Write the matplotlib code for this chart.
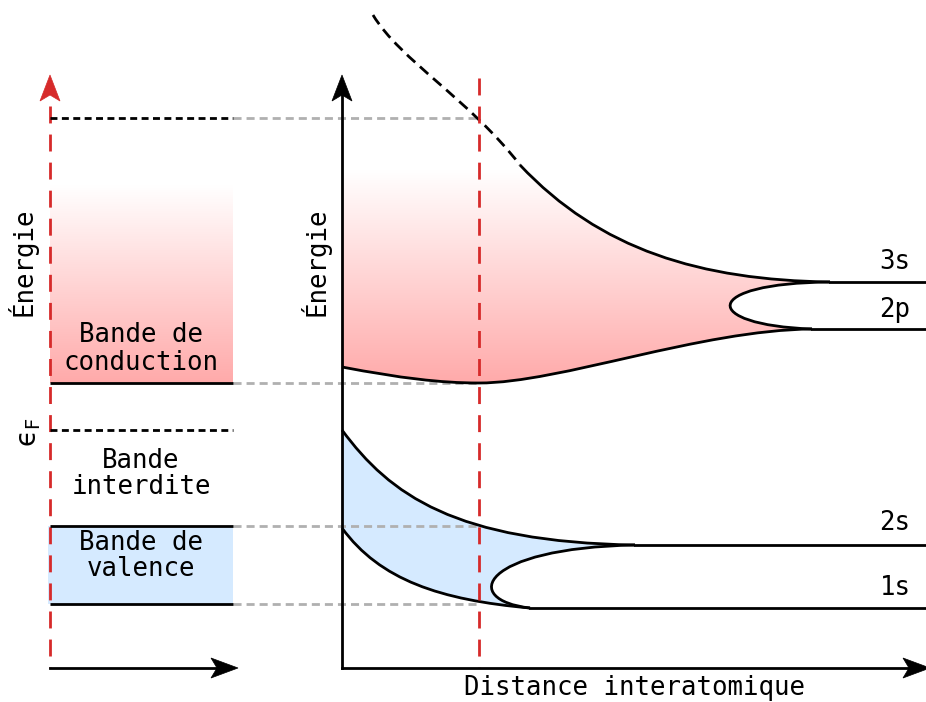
import numpy as np
import matplotlib
matplotlib.use('Agg')
import matplotlib.pyplot as plt
from matplotlib.path import Path
from matplotlib.patches import PathPatch, Polygon

W, H = 926, 702

# ---------------- data (schematic, in pixel-like units) ----------------
level_labels = ['3s', '2p', '2s', '1s']
level_y = [282, 329, 545, 608]
level_start_x = [830, 812, 635, 530]
level_label_y = [262, 310, 523, 588]

equilibrium_x = 479
top_energy_y = 118
conduction_bottom_y = 383
fermi_y = 430
valence_top_y = 526
valence_bottom_y = 604

band_texts = ['Bande de\nconduction', 'Bande\ninterdite', 'Bande de\nvalence']
band_text_y = [349, 474, 556]

# cubic Bezier control points P0, P1, P2, P3
cond_upper_dashed = [(373, 15), (400, 60), (470, 100), (520, 165)]
cond_upper = [(520, 165), (600, 250), (700, 280), (830, 282)]
cond_inner = [(830, 282), (700, 283), (700, 325), (812, 329)]
cond_lower_a = [(342, 367), (400, 378), (440, 383), (479, 383)]
cond_lower_b = [(479, 383), (560, 383), (700, 330), (812, 329)]
val_upper = [(342, 430), (390, 495), (455, 542), (635, 545)]
val_inner = [(635, 545), (480, 548), (460, 600), (530, 608)]
val_lower = [(342, 528), (380, 580), (440, 600), (530, 608)]

# ---------------- styles ----------------
RED = '#d62a2a'
PINK = np.array([255, 170, 170]) / 255.0
BLUE = '#d5eaff'
GREY = '#b0b0b0'
FONT = 'DejaVu Sans Mono'
FS = 18.5
LW = 2.0

fig = plt.figure(figsize=(W / 100, H / 100), dpi=100)
ax = fig.add_axes([0, 0, 1, 1])
ax.set_xlim(0, W)
ax.set_ylim(H, 0)
ax.axis('off')


def bez_path(segments, close_to=None):
    verts = [segments[0][0]]
    codes = [Path.MOVETO]
    for seg in segments:
        verts += list(seg[1:])
        codes += [Path.CURVE4] * 3
    if close_to is not None:
        for p in close_to:
            verts.append(p)
            codes.append(Path.LINETO)
        verts.append(verts[0])
        codes.append(Path.CLOSEPOLY)
    return Path(verts, codes)


def rev(seg):
    return list(seg[::-1])


def gradient(y_top, y_bot, x0, x1, clip=None):
    n = 256
    t = np.linspace(0, 1, n)[:, None]
    img = np.ones((n, 1, 3)) * (1 - t[..., None]) + PINK[None, None, :] * t[..., None]
    im = ax.imshow(img, extent=[x0, x1, y_bot, y_top], origin='upper',
                   aspect='auto', zorder=1, interpolation='bilinear')
    if clip is not None:
        im.set_clip_path(clip)
    return im


# ---------------- left panel ----------------
gradient(185, conduction_bottom_y, 50, 233)
ax.fill_between([48, 233], valence_top_y, valence_bottom_y, color=BLUE, lw=0, zorder=1)

for y in (conduction_bottom_y, valence_top_y, valence_bottom_y):
    ax.plot([50, 233], [y, y], color='black', lw=LW, zorder=4, solid_capstyle='butt')
for y in (top_energy_y, fermi_y):
    ax.plot([50, 233], [y, y], color='black', lw=LW, ls=(0, (2.5, 1.6)), zorder=4)
for y in (top_energy_y, conduction_bottom_y, valence_top_y, valence_bottom_y):
    ax.plot([233, equilibrium_x], [y, y], color=GREY, lw=LW, ls=(0, (2.9, 1.8)), zorder=2)

for txt, y in zip(band_texts, band_text_y):
    ax.text(141, y, txt, ha='center', va='center', family=FONT, fontsize=FS,
            linespacing=1.05, zorder=5)

ax.text(22, 262, 'Énergie', rotation=90, ha='center', va='center', family=FONT, fontsize=FS)
ax.text(29, fermi_y + 2, r'$\mathrm{ϵ}_{\mathrm{F}}$', rotation=90, ha='center', va='center',
        fontsize=20)

# red dashed axis with arrow
ax.plot([50, 50], [106, 668], color=RED, lw=LW, ls=(0, (6.1, 4.0)), zorder=3)
ax.add_patch(Polygon([(50, 75), (40, 101), (50, 95), (60, 101)], closed=True,
                     fc=RED, ec=RED, lw=0.5, zorder=6))
# bottom arrow
ax.plot([50, 220], [668, 668], color='black', lw=LW, zorder=4)
ax.add_patch(Polygon([(238, 668), (211, 658), (217, 668), (211, 678)], closed=True,
                     fc='black', ec='black', lw=0.5, zorder=6))

# ---------------- right panel ----------------
pink_path = bez_path([cond_lower_a, cond_lower_b, rev(cond_inner), rev(cond_upper)],
                     close_to=[(342, 165)])
pink_patch = PathPatch(pink_path, fc='none', ec='none')
ax.add_patch(pink_patch)
gradient(170, conduction_bottom_y, 342, 835, clip=pink_patch)

blue_path = bez_path([val_upper, val_inner, rev(val_lower)], close_to=[])
ax.add_patch(PathPatch(blue_path, fc=BLUE, ec='none', zorder=1))

for seg in (cond_upper, cond_inner, cond_lower_a, cond_lower_b, val_upper, val_inner, val_lower):
    ax.add_patch(PathPatch(bez_path([seg]), fc='none', ec='black', lw=LW, zorder=4))
ax.add_patch(PathPatch(bez_path([cond_upper_dashed]), fc='none', ec='black', lw=LW,
                       ls=(0, (4.0, 2.3)), zorder=4))

for lab, y, x0, ly in zip(level_labels, level_y, level_start_x, level_label_y):
    ax.plot([x0, W], [y, y], color='black', lw=LW, zorder=4)
    ax.text(895, ly, lab, ha='center', va='center', family=FONT, fontsize=FS)

ax.plot([equilibrium_x, equilibrium_x], [78, 668], color=RED, lw=LW,
        ls=(0, (6.1, 4.0)), zorder=5)

# axes arrows
ax.plot([342, 342], [668, 95], color='black', lw=LW, zorder=6)
ax.add_patch(Polygon([(342, 75), (332, 101), (342, 95), (352, 101)], closed=True,
                     fc='black', ec='black', lw=0.5, zorder=6))
ax.plot([342, 912], [668, 668], color='black', lw=LW, zorder=6)
ax.add_patch(Polygon([(930, 668), (903, 658), (909, 668), (903, 678)], closed=True,
                     fc='black', ec='black', lw=0.5, zorder=6))

ax.text(315, 262, 'Énergie', rotation=90, ha='center', va='center', family=FONT, fontsize=FS)
ax.text(635, 688, 'Distance interatomique', ha='center', va='center', family=FONT, fontsize=FS)

fig.savefig('out.png', dpi=100)
